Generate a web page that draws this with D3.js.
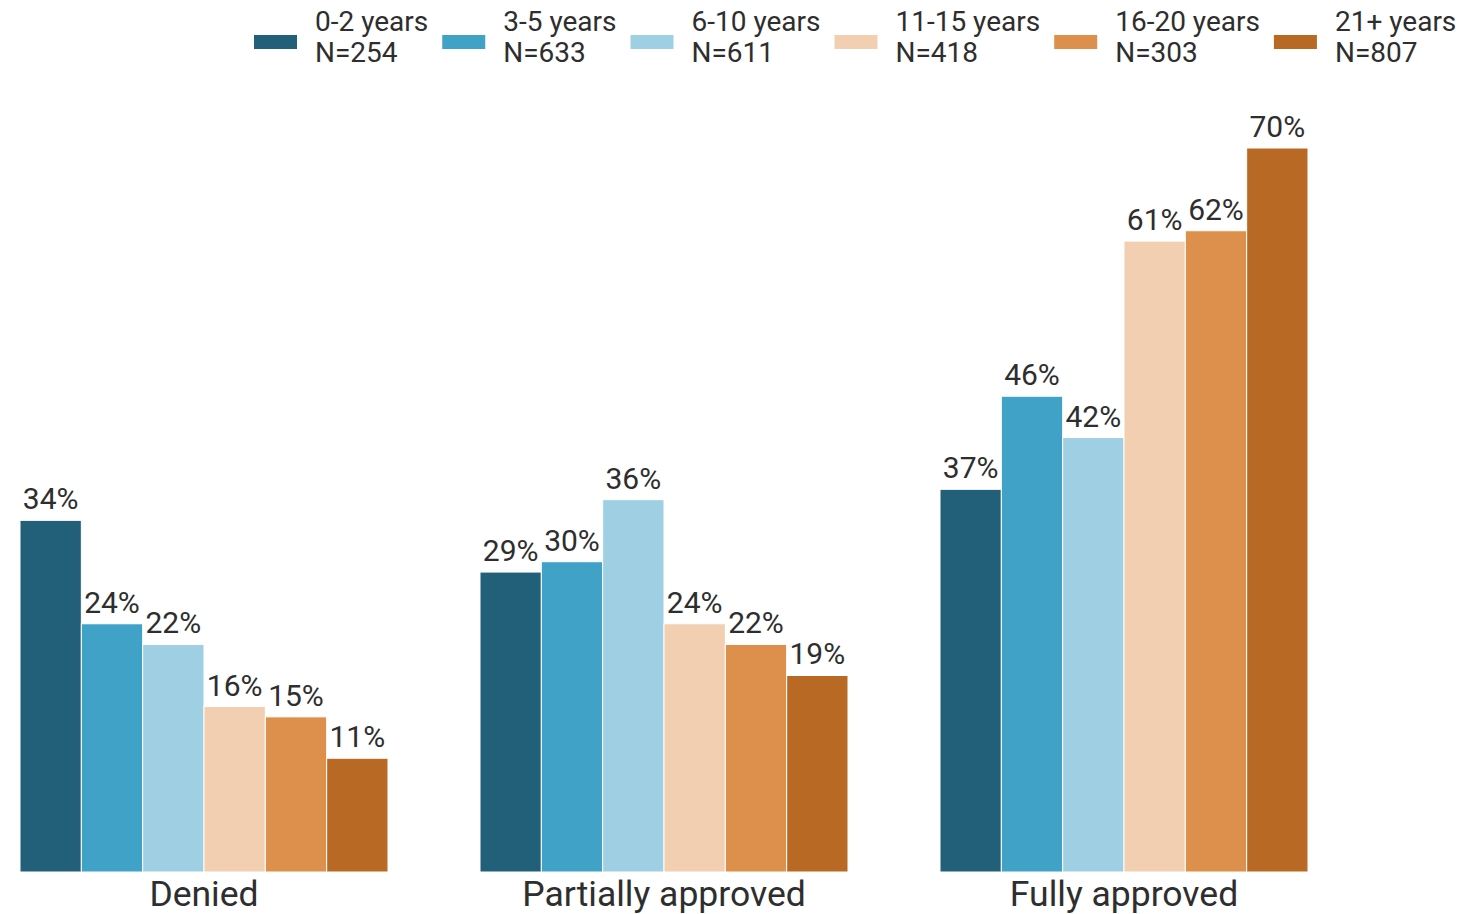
<!DOCTYPE html>
<html><head><meta charset="utf-8">
<script src="https://cdn.jsdelivr.net/npm/d3@7/dist/d3.min.js"></script>
<style>body{margin:0;background:#fff;font-family:Roboto,sans-serif;}</style>
</head><body><svg id="c" width="1460" height="914"></svg>
<script>
const categories = ["Denied", "Partially approved", "Fully approved"];
const seriesNames = ["0-2 years", "3-5 years", "6-10 years", "11-15 years", "16-20 years", "21+ years"];
const seriesN = ["N=254", "N=633", "N=611", "N=418", "N=303", "N=807"];
const colors = ["#22607a", "#41a2c8", "#9ecfe2", "#f1cfb0", "#dd904c", "#b86a24"];
const values0_2 = [34, 29, 37];
const values3_5 = [24, 30, 46];
const values6_10 = [22, 36, 42];
const values11_15 = [16, 24, 61];
const values16_20 = [15, 22, 62];
const values21p = [11, 19, 70];
const seriesValues = [values0_2, values3_5, values6_10, values11_15, values16_20, values21p];

const svg = d3.select("#c");
const textColor = "#2e2e2e";
const x0 = d3.scaleBand().domain(categories).range([20, 1308]).paddingInner(0.2).paddingOuter(0);
const x1 = d3.scaleBand().domain(seriesNames).range([0, x0.bandwidth()]);
const y = d3.scaleLinear().domain([0, 70]).range([872, 148]);

const g = svg.append("g");
categories.forEach((cat, ci) => {
  const gg = g.append("g").attr("transform", `translate(${x0(cat)},0)`);
  seriesNames.forEach((s, si) => {
    const v = seriesValues[si][ci];
    gg.append("rect").attr("x", x1(s)).attr("y", y(v)).attr("width", x1.bandwidth()).attr("height", y(0) - y(v))
      .attr("fill", colors[si]).attr("stroke", "#fff").attr("stroke-width", 1);
    gg.append("text").attr("x", x1(s) + x1.bandwidth() / 2).attr("y", y(v) - 11).attr("text-anchor", "middle")
      .attr("font-size", 30).attr("fill", textColor).text(v + "%");
  });
});

const xAxis = d3.axisBottom(x0).tickSize(0).tickPadding(9);
const ax = svg.append("g").attr("transform", "translate(0,872)").call(xAxis);
ax.select(".domain").remove();
ax.selectAll("text").attr("font-size", 35.5).attr("font-family", "Roboto, sans-serif").attr("fill", textColor);

// legend
const lg = svg.append("g");
let lx = 254;
seriesNames.forEach((s, i) => {
  const it = lg.append("g").attr("transform", `translate(${lx},0)`);
  it.append("rect").attr("x", 0).attr("y", 35).attr("width", 43).attr("height", 14).attr("fill", colors[i]);
  const t1 = it.append("text").attr("x", 61).attr("y", 31).attr("font-size", 28).attr("fill", textColor).text(s);
  const t2 = it.append("text").attr("x", 61).attr("y", 62).attr("font-size", 28).attr("fill", textColor).text(seriesN[i]);
  const w = Math.max(t1.node().getComputedTextLength(), t2.node().getComputedTextLength());
  lx += 61 + w + 14;
});
</script></body></html>
